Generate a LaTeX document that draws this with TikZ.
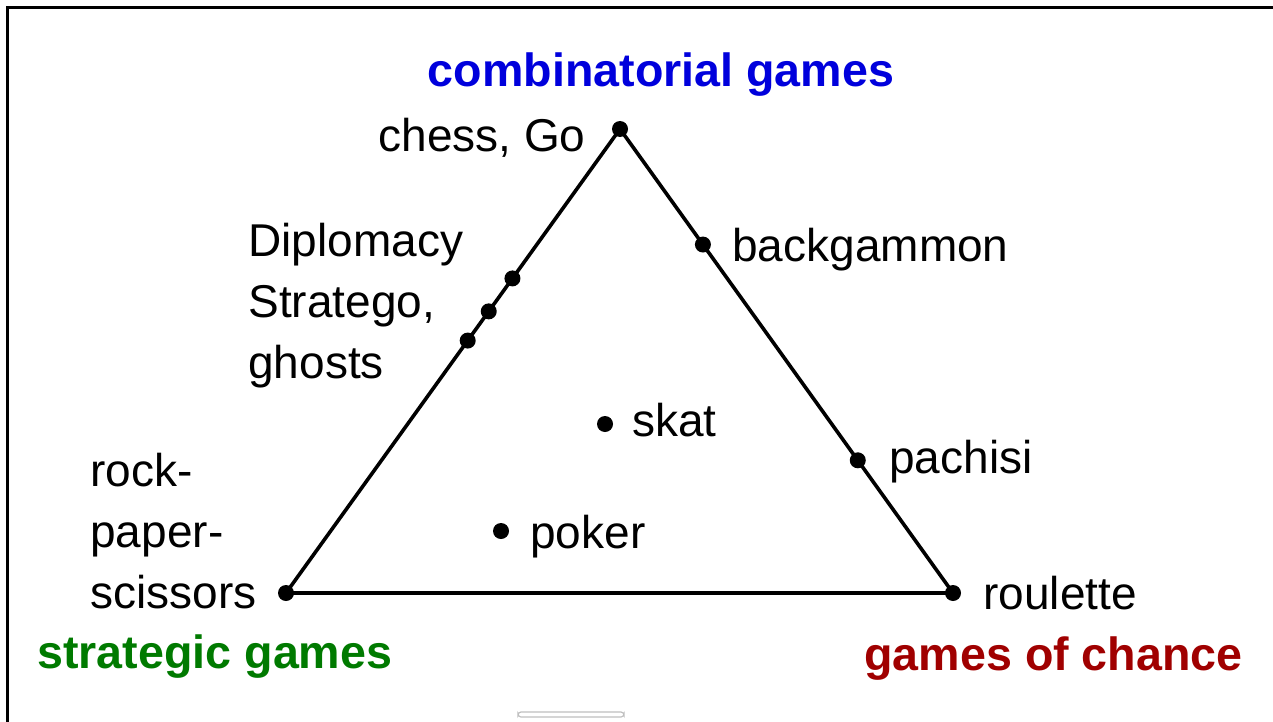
\documentclass[tikz,border=0pt]{standalone}
\usepackage{fontspec}
\setmainfont{Liberation Sans}
\usepackage{tikz}
\usetikzlibrary{calc}

\definecolor{cgblue}{RGB}{0,0,220}
\definecolor{sggreen}{RGB}{0,122,0}
\definecolor{gcred}{RGB}{160,0,0}

\tikzset{
    dot/.style={circle,fill=black,inner sep=0pt,minimum size=8pt},
    game/.style={inner sep=0pt,align=left,font=\fontsize{23}{30.5}\selectfont},
    kind/.style={inner sep=0pt,font=\fontsize{23.3}{28}\selectfont\bfseries},
}

\begin{document}
\begin{tikzpicture}[x=0.5pt,y=-0.5pt]
        \useasboundingbox (0,0) rectangle (1273,722);
        \draw [line width=1.5pt] (7,722)--(7,8)--(1273,8);
        \draw [black!25,line width=0.6pt,rounded corners=1.5pt] (518,712) rectangle (624,717);

        % corners
        \node [dot] (go) at(620,129) {};
        \node [dot] (rps) at(286,593) {};
        \node [dot] (rou) at(953,593) {};
        \draw [line width=1.8pt,line join=round] (go.center)--(rps.center)--(rou.center)--cycle;

        % on the edges
        \node [dot] (dip) at($(go)!0.322!(rps)$) {};
        \node [dot] (str) at($(go)!0.393!(rps)$) {};
        \node [dot] (gho) at($(go)!0.456!(rps)$) {};
        \node [dot] (bg) at($(go)!0.249!(rou)$) {};
        \node [dot] (pa) at($(go)!0.714!(rou)$) {};
        % inside
        \node [dot] (sk) at(605,424) {};
        \node [dot] (po) at(501,531) {};

        % base of a two-line label is its last line
        \node [game,anchor=base east] (l-go) at(586,151) {chess, Go};
        \node [game,anchor=base west] (l-bg) at(732,261) {backgammon};
        \node [game,anchor=base west] (l-dip) at(248,378) {Diplomacy\\Stratego,\\ghosts};
        \node [game,anchor=base west] (l-sk) at(632,436) {skat};
        \node [game,anchor=base west] (l-po) at(530,548) {poker};
        \node [game,anchor=base west] (l-pa) at(889,473) {pachisi};
        \node [game,anchor=base west] (l-rou) at(983,609) {roulette};
        \node [game,anchor=base west] (l-rps) at(90,608) {rock-\\paper-\\scissors};

        \node [kind,text=cgblue,anchor=base] (t-comb) at(661,87) {combinatorial games};
        \node [kind,text=sggreen,anchor=base west] (t-strat) at(37,668) {strategic games};
        \node [kind,text=gcred,anchor=base east] (t-chance) at(1243,670) {games of chance};
\end{tikzpicture}
\end{document}
